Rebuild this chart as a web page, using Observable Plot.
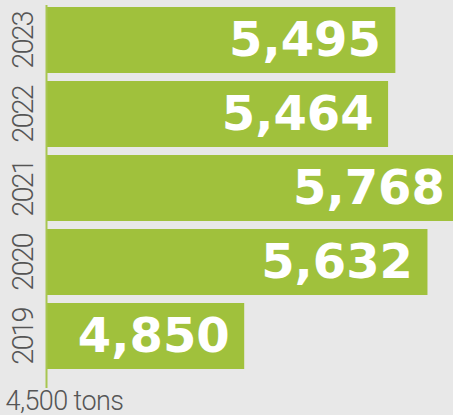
<!DOCTYPE html>
<html>
<head>
<meta charset="utf-8">
<script src="https://cdn.jsdelivr.net/npm/d3@7"></script>
<script src="https://cdn.jsdelivr.net/npm/@observablehq/plot@0.6"></script>
<style>
  html, body { margin: 0; padding: 0; background: #e8e8e8; overflow: hidden; }
  .yr text { letter-spacing: -2px; }
  .base text { letter-spacing: -0.6px; }
</style>
</head>
<body>
<div id="chart"></div>
<script>
const years = ["2023", "2022", "2021", "2020", "2019"];
const tons = [5495, 5464, 5768, 5632, 4850];
const baseLabel = "4,500 tons";
const baseline = 4000;

const data = years.map((y, i) => ({year: y, value: tons[i]}));
const green = "#a0c13c";

const chart = Plot.plot({
  width: 453,
  height: 415,
  marginLeft: 45,
  marginRight: 0,
  marginTop: 3,
  marginBottom: 42,
  style: {background: "#e8e8e8", overflow: "hidden"},
  x: {domain: [baseline, 5741], axis: null},
  y: {domain: years, axis: null, paddingInner: 0.108, paddingOuter: 0.054},
  marks: [
    Plot.barX(data, {x1: baseline, x2: "value", y: "year", fill: green, insetLeft: 2, clip: true}),
    Plot.ruleX([baseline], {stroke: "#a8c651", strokeWidth: 2, dx: 1, insetTop: 2, insetBottom: -15}),
    Plot.text(data, {
      x: "value", y: "year", text: d => d3.format(",")(d.value),
      textAnchor: "end", dx: -15, fill: "white",
      fontSize: 48, fontWeight: "bold", fontFamily: "DejaVu Sans"
    }),
    Plot.text(data, {
      frameAnchor: "left", y: "year", text: "year", rotate: -90,
      textAnchor: "middle", lineAnchor: "middle", dx: -22,
      fill: "#555", fontSize: 29, fontWeight: 300, fontFamily: "Roboto",
      className: "yr"
    }),
    Plot.text([baseLabel], {
      frameAnchor: "bottom-left", text: d => d, textAnchor: "start", lineAnchor: "middle",
      dx: -40, dy: 28, fill: "#555", fontSize: 27, fontWeight: 300, fontFamily: "Roboto",
      className: "base"
    })
  ]
});
document.getElementById("chart").appendChild(chart);
</script>
</body>
</html>
